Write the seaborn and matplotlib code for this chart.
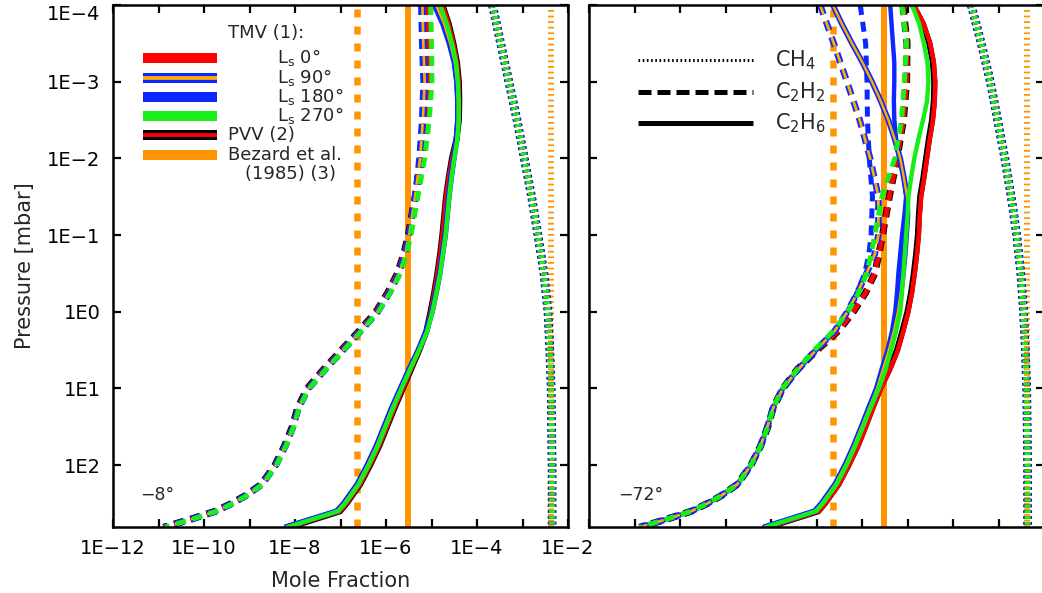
import numpy as np
import pandas as pd
import matplotlib
matplotlib.use("Agg")
import matplotlib.pyplot as plt
import seaborn as sns

sns.set_theme(style="white")
plt.rcParams["font.family"] = ["DejaVu Sans"]
plt.rcParams["mathtext.fontset"] = "dejavusans"
plt.rcParams["lines.scale_dashes"] = False

# ------------------------------------------------------------------ data
PANEL_LABELS = ["\u22128\u00b0", "\u221272\u00b0"]
SERIES = ["PVV", "Ls0", "Ls180", "Ls90", "Ls270"]

# log10 pressure grids [mbar]
LOGP_CH4 = [-4.0, -3.5, -3.0, -2.5, -2.0, -1.5, -1.0, -0.5, 0.0, 0.5, 1.0, 1.5, 2.0, 2.5, 2.81]
LOGP_C2H2 = [-4.0, -3.5, -3.0, -2.5, -2.0, -1.5, -1.0, -0.75, -0.5, -0.25, 0.0, 0.25, 0.5, 0.75,
             1.0, 1.25, 1.5, 1.75, 2.0, 2.25, 2.4, 2.5, 2.6, 2.7, 2.81]
LOGP_C2H6 = [-4.0, -3.75, -3.5, -3.25, -3.0, -2.75, -2.5, -2.25, -2.0, -1.75, -1.5, -1.25, -1.0, -0.75,
             -0.5, -0.25, 0.0, 0.25, 0.5, 0.75, 1.0, 1.25, 1.5, 1.75, 2.0, 2.25, 2.5, 2.6, 2.81]

# log10 mole fractions, left panel (-8 deg)
L_CH4 = [-3.66, -3.48, -3.30, -3.12, -2.96, -2.80, -2.66, -2.53, -2.44, -2.40, -2.37, -2.36, -2.35, -2.35, -2.35]
L_C2H2_PVV = [-5.10, -5.08, -5.07, -5.12, -5.21, -5.36, -5.51, -5.61, -5.75, -5.96, -6.22, -6.59, -6.98,
              -7.37, -7.73, -7.94, -8.06, -8.23, -8.44, -8.74, -9.10, -9.40, -9.75, -10.27, -10.89]
L_C2H2_LS0 = [-5.10, -5.08, -5.07, -5.12, -5.21, -5.36, -5.51, -5.61, -5.75, -5.96, -6.22, -6.59, -6.98,
              -7.37, -7.73, -7.94, -8.06, -8.23, -8.44, -8.74, -9.10, -9.40, -9.75, -10.27, -10.89]
L_C2H2_LS90 = [-5.20, -5.18, -5.15, -5.19, -5.25, -5.36, -5.49, -5.58, -5.71, -5.92, -6.18, -6.55, -6.94,
               -7.33, -7.70, -7.92, -8.04, -8.21, -8.42, -8.72, -9.08, -9.38, -9.73, -10.25, -10.87]
L_C2H2_LS180 = [-5.24, -5.22, -5.19, -5.22, -5.28, -5.37, -5.49, -5.58, -5.71, -5.92, -6.18, -6.55, -6.94,
                -7.33, -7.70, -7.92, -8.04, -8.21, -8.42, -8.72, -9.08, -9.38, -9.73, -10.25, -10.87]
L_C2H2_LS270 = [-5.02, -5.00, -4.99, -5.05, -5.15, -5.30, -5.45, -5.55, -5.69, -5.90, -6.17, -6.54, -6.93,
                -7.32, -7.69, -7.91, -8.03, -8.20, -8.41, -8.71, -9.07, -9.37, -9.72, -10.24, -10.86]
L_C2H6_PVV = [-4.76, -4.62, -4.52, -4.44, -4.40, -4.39, -4.40, -4.45, -4.55, -4.62, -4.68, -4.72, -4.76, -4.81,
              -4.87, -4.94, -5.02, -5.11, -5.27, -5.45, -5.63, -5.81, -5.98, -6.15, -6.35, -6.57, -6.87, -7.01, -8.12]
L_C2H6_LS0 = [-4.76, -4.62, -4.52, -4.44, -4.40, -4.39, -4.40, -4.45, -4.55, -4.62, -4.68, -4.72, -4.76, -4.81,
              -4.87, -4.94, -5.02, -5.11, -5.27, -5.45, -5.63, -5.81, -5.98, -6.15, -6.35, -6.57, -6.87, -7.01, -8.12]
L_C2H6_LS90 = [-4.90, -4.72, -4.59, -4.49, -4.44, -4.42, -4.42, -4.45, -4.51, -4.57, -4.62, -4.66, -4.70, -4.76,
               -4.82, -4.90, -4.99, -5.11, -5.29, -5.49, -5.68, -5.87, -6.04, -6.21, -6.41, -6.63, -6.93, -7.08, -8.22]
L_C2H6_LS180 = [-4.95, -4.76, -4.62, -4.51, -4.45, -4.43, -4.43, -4.46, -4.52, -4.58, -4.62, -4.66, -4.70, -4.76,
                -4.82, -4.90, -4.99, -5.11, -5.29, -5.50, -5.69, -5.88, -6.05, -6.22, -6.42, -6.64, -6.94, -7.09, -8.23]
L_C2H6_LS270 = [-4.81, -4.66, -4.55, -4.46, -4.42, -4.40, -4.40, -4.43, -4.50, -4.56, -4.61, -4.65, -4.69, -4.75,
                -4.81, -4.89, -4.98, -5.09, -5.27, -5.47, -5.66, -5.84, -6.01, -6.18, -6.38, -6.60, -6.90, -7.05, -8.18]

# log10 mole fractions, right panel (-72 deg)
R_CH4 = [-3.60, -3.38, -3.18, -3.02, -2.86, -2.72, -2.60, -2.51, -2.45, -2.41, -2.38, -2.37, -2.36, -2.36, -2.36]
R_C2H2_PVV = [-5.10, -5.01, -5.02, -5.09, -5.23, -5.40, -5.55, -5.63, -5.72, -5.92, -6.19, -6.52, -6.99,
              -7.42, -7.74, -7.95, -8.07, -8.23, -8.44, -8.74, -9.10, -9.40, -9.75, -10.27, -10.89]
R_C2H2_LS0 = [-5.10, -5.01, -5.02, -5.09, -5.23, -5.40, -5.55, -5.63, -5.72, -5.92, -6.19, -6.52, -6.99,
              -7.42, -7.74, -7.95, -8.07, -8.23, -8.44, -8.74, -9.10, -9.40, -9.75, -10.27, -10.89]
R_C2H2_LS90 = [-6.92, -6.62, -6.33, -6.05, -5.82, -5.64, -5.64, -5.72, -5.90, -6.10, -6.32, -6.60, -7.01,
               -7.40, -7.74, -7.95, -8.08, -8.23, -8.44, -8.74, -9.10, -9.40, -9.75, -10.27, -10.89]
R_C2H2_LS180 = [-6.04, -5.92, -5.89, -5.88, -5.84, -5.77, -5.80, -5.85, -5.94, -6.11, -6.32, -6.60, -7.01,
                -7.40, -7.74, -7.95, -8.08, -8.23, -8.44, -8.74, -9.10, -9.40, -9.75, -10.27, -10.89]
R_C2H2_LS270 = [-5.12, -5.02, -5.07, -5.13, -5.28, -5.56, -5.72, -5.80, -5.90, -6.07, -6.31, -6.63, -7.05,
                -7.42, -7.75, -7.95, -8.07, -8.23, -8.44, -8.74, -9.10, -9.40, -9.75, -10.27, -10.89]
R_C2H6_PVV = [-4.88, -4.66, -4.52, -4.44, -4.41, -4.42, -4.46, -4.53, -4.59, -4.65, -4.72, -4.75, -4.77, -4.81,
              -4.86, -4.92, -5.00, -5.11, -5.23, -5.40, -5.60, -5.77, -5.93, -6.10, -6.30, -6.52, -6.82, -6.96, -8.07]
R_C2H6_LS0 = [-4.86, -4.64, -4.50, -4.42, -4.39, -4.40, -4.44, -4.51, -4.57, -4.63, -4.70, -4.73, -4.75, -4.79,
              -4.84, -4.90, -4.98, -5.09, -5.21, -5.38, -5.58, -5.75, -5.91, -6.08, -6.28, -6.50, -6.80, -6.94, -8.05]
R_C2H6_LS90 = [-6.64, -6.44, -6.22, -5.99, -5.78, -5.59, -5.42, -5.28, -5.16, -5.08, -5.01, -5.00, -5.03, -5.06,
               -5.10, -5.15, -5.21, -5.30, -5.41, -5.54, -5.67, -5.84, -6.01, -6.18, -6.37, -6.59, -6.89, -7.04, -8.16]
R_C2H6_LS180 = [-5.38, -5.35, -5.32, -5.29, -5.29, -5.30, -5.29, -5.25, -5.18, -5.08, -5.03, -5.07, -5.12, -5.16,
                -5.20, -5.23, -5.27, -5.34, -5.44, -5.57, -5.69, -5.86, -6.02, -6.19, -6.38, -6.60, -6.90, -7.05, -8.18]
R_C2H6_LS270 = [-4.90, -4.74, -4.64, -4.56, -4.54, -4.57, -4.66, -4.76, -4.85, -4.92, -4.98, -5.00, -5.03, -5.06,
                -5.09, -5.12, -5.16, -5.25, -5.36, -5.48, -5.63, -5.81, -5.98, -6.15, -6.34, -6.56, -6.86, -7.01, -8.13]

# Bezard et al. (1985) constant mole fractions
BEZARD_CH4 = 4.3e-3
BEZARD_C2H2 = 2.3e-7
BEZARD_C2H6 = 3.0e-6

X_TICKS_EXP = list(range(-12, -1))
X_TICK_LABELS = ["1E\u221212", "", "1E\u221210", "", "1E\u22128", "", "1E\u22126", "", "1E\u22124", "", "1E\u22122"]
Y_TICKS_EXP = [-4, -3, -2, -1, 0, 1, 2]
Y_TICK_LABELS = ["1E\u22124", "1E\u22123", "1E\u22122", "1E\u22121", "1E0", "1E1", "1E2"]

LEGEND_LABELS = ["TMV (1):", "L$_{\\rm s}$ 0\u00b0", "L$_{\\rm s}$ 90\u00b0", "L$_{\\rm s}$ 180\u00b0",
                 "L$_{\\rm s}$ 270\u00b0", "PVV (2)", "Bezard et al.", "(1985) (3)"]
SPECIES_LABELS = ["CH$_4$", "C$_2$H$_2$", "C$_2$H$_6$"]

# ------------------------------------------------------------------ table
panel_data = {
    0: {"CH4": {s: L_CH4 for s in SERIES},
        "C2H2": dict(PVV=L_C2H2_PVV, Ls0=L_C2H2_LS0, Ls90=L_C2H2_LS90, Ls180=L_C2H2_LS180, Ls270=L_C2H2_LS270),
        "C2H6": dict(PVV=L_C2H6_PVV, Ls0=L_C2H6_LS0, Ls90=L_C2H6_LS90, Ls180=L_C2H6_LS180, Ls270=L_C2H6_LS270)},
    1: {"CH4": {s: R_CH4 for s in SERIES},
        "C2H2": dict(PVV=R_C2H2_PVV, Ls0=R_C2H2_LS0, Ls90=R_C2H2_LS90, Ls180=R_C2H2_LS180, Ls270=R_C2H2_LS270),
        "C2H6": dict(PVV=R_C2H6_PVV, Ls0=R_C2H6_LS0, Ls90=R_C2H6_LS90, Ls180=R_C2H6_LS180, Ls270=R_C2H6_LS270)},
}
grids = {"CH4": LOGP_CH4, "C2H2": LOGP_C2H2, "C2H6": LOGP_C2H6}
rows = []
for p, spd in panel_data.items():
    for sp, sd in spd.items():
        for s, vals in sd.items():
            assert len(vals) == len(grids[sp]), (p, sp, s, len(vals))
            for i, (lp, lx) in enumerate(zip(grids[sp], vals)):
                rows.append(dict(panel=p, species=sp, series=s, order=i,
                                 pressure=10.0 ** lp, frac=10.0 ** lx))
df = pd.DataFrame(rows)

# ------------------------------------------------------------------ styles
PT = 0.72  # points per pixel at 100 dpi
RED, BLUE, GREEN, BLACK = "#ff0000", "#0a28ff", "#19ee19", "#000000"
ORANGE, ORANGE_LS90 = "#ff9500", "#ffac00"
STYLE_LS = {"CH4": (0, (2.6 * PT, 3.2 * PT)),
            "C2H2": (0, (10 * PT, 7 * PT)),
            "C2H6": "-"}
WIDTH = {"CH4": 6.2 * PT, "C2H2": 5 * PT, "C2H6": 4.4 * PT}
SERIES_STYLE = {  # (under colour, under width factor, top colour, top width factor)
    "PVV": (BLACK, 1.4, RED, 0.55),
    "Ls0": (None, 0, RED, 1.0),
    "Ls180": (None, 0, BLUE, 1.0),
    "Ls90": (BLUE, 1.3, ORANGE_LS90, 0.55),
    "Ls270": (None, 0, GREEN, 1.0),
}

fig = plt.figure(figsize=(10.42, 5.93), dpi=100)
ax_l = fig.add_axes([113 / 1042, 66 / 593, 455 / 1042, 522 / 593])
ax_r = fig.add_axes([589 / 1042, 66 / 593, 455 / 1042, 522 / 593])
axes = [ax_l, ax_r]

for p, ax in enumerate(axes):
    ax.set_xscale("log")
    ax.set_yscale("log")
    ax.axvline(BEZARD_C2H6, color=ORANGE, lw=6 * PT, zorder=1)
    ax.axvline(BEZARD_C2H2, color=ORANGE, lw=6.5 * PT, ls=(0, (8 * PT, 9 * PT)), zorder=1)
    ax.axvline(BEZARD_CH4, color=ORANGE, lw=6 * PT, ls=(0, (1.8 * PT, 3.8 * PT)), zorder=1)
    for s in SERIES:
        under, uf, top, tf = SERIES_STYLE[s]
        for sp in ["CH4", "C2H6", "C2H2"]:
            sub = df[(df.panel == p) & (df.species == sp) & (df.series == s)].sort_values("order")
            if under is not None:
                sns.lineplot(data=sub, x="frac", y="pressure", ax=ax, sort=False, estimator=None,
                             color=under, linewidth=WIDTH[sp] * uf, linestyle=STYLE_LS[sp],
                             solid_capstyle="butt", legend=False)
            sns.lineplot(data=sub, x="frac", y="pressure", ax=ax, sort=False, estimator=None,
                         color=top, linewidth=WIDTH[sp] * tf, linestyle=STYLE_LS[sp],
                         solid_capstyle="butt", legend=False)

    ax.set_xlim(1e-12, 1e-2)
    ax.set_ylim(10 ** 2.806, 1e-4)
    ax.set_xticks([10.0 ** e for e in X_TICKS_EXP])
    ax.set_yticks([10.0 ** e for e in Y_TICKS_EXP])
    ax.minorticks_off()
    ax.tick_params(axis="both", which="major", direction="in", length=8 * PT, width=1.6,
                   top=True, right=True, bottom=True, left=True, labelsize=14, pad=9, colors="black")
    for sp_ in ax.spines.values():
        sp_.set_linewidth(1.8)
        sp_.set_color("black")
    ax.set_xlabel("")
    ax.set_ylabel("")
    ax.text(0.06 if p == 0 else 0.064, 0.061, PANEL_LABELS[p], transform=ax.transAxes,
            fontsize=12.5, ha="left", va="center")

ax_l.set_xticklabels(X_TICK_LABELS)
ax_l.set_yticklabels(Y_TICK_LABELS)
ax_l.get_yticklabels()[0].set_va("top")
ax_r.set_xticklabels([])
ax_r.set_yticklabels([])
ax_l.set_xlabel("Mole Fraction", fontsize=15, labelpad=9)
ax_l.set_ylabel("Pressure [mbar]", fontsize=15, labelpad=9)

# ---- left legend (seasons)
bx = [0.066, 0.229]
legend_rows = [0.898, 0.860, 0.824, 0.787, 0.751, 0.713]
bar_styles = [(None, RED), (BLUE, ORANGE_LS90), (None, BLUE), (None, GREEN), (BLACK, RED), (None, ORANGE)]
for yv, (under, top) in zip(legend_rows, bar_styles):
    if under is not None:
        ax_l.plot(bx, [yv, yv], transform=ax_l.transAxes, color=under, lw=10 * PT, solid_capstyle="butt")
        ax_l.plot(bx, [yv, yv], transform=ax_l.transAxes, color=top, lw=3.8 * PT, solid_capstyle="butt")
    else:
        ax_l.plot(bx, [yv, yv], transform=ax_l.transAxes, color=top, lw=10 * PT, solid_capstyle="butt")
text_pos = [(0.253, 0.946), (0.360, 0.900), (0.360, 0.862), (0.360, 0.825), (0.360, 0.788),
            (0.253, 0.751), (0.253, 0.713), (0.290, 0.676)]
for (tx, ty), lab in zip(text_pos, LEGEND_LABELS):
    ax_l.text(tx, ty, lab, transform=ax_l.transAxes, fontsize=13, ha="left", va="center")

# ---- right legend (species)
lx = [0.108, 0.360]
sp_rows = [0.895, 0.833, 0.774]
sp_styles = [(3 * PT, (0, (1.6 * PT, 2.6 * PT))), (5 * PT, (0, (13 * PT, 6 * PT))), (5 * PT, "-")]
for yv, (lw, ls), lab in zip(sp_rows, sp_styles, SPECIES_LABELS):
    ax_r.plot(lx, [yv, yv], transform=ax_r.transAxes, color="black", lw=lw, ls=ls, solid_capstyle="butt")
    ax_r.text(0.409, yv, lab, transform=ax_r.transAxes, fontsize=15, ha="left", va="center")

fig.savefig("out.png", dpi=100, facecolor="white")
